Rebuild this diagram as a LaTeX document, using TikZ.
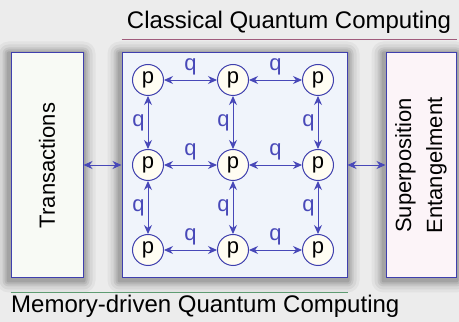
\documentclass[tikz,border=0pt]{standalone}
\usepackage{fontspec}
\setmainfont{Liberation Sans}
\usepackage{tikz}
\usetikzlibrary{arrows.meta,positioning,backgrounds}
\definecolor{qblue}{HTML}{3F3FAE}
\definecolor{qarrow}{HTML}{4848B8}
\definecolor{cream}{HTML}{FFFDF2}
\definecolor{mint}{HTML}{F8FAF5}
\definecolor{ice}{HTML}{F0F4FB}
\definecolor{blush}{HTML}{FCF4F8}
\definecolor{plum}{HTML}{A05C7C}
\definecolor{moss}{HTML}{5E9C72}
\definecolor{backdrop}{HTML}{ECECEC}
\tikzset{panel/.style={draw=qblue,line width=1pt,inner sep=0pt},
qubit/.style={circle,draw=qblue,fill=cream,line width=1pt,minimum size=31pt,inner sep=0pt,font=\fontsize{22}{22}\selectfont},
link/.style={{Stealth[length=9pt,width=8pt]}-{Stealth[length=9pt,width=8pt]},qarrow,line width=.9pt},
qlabel/.style={font=\fontsize{22}{22}\selectfont,inner sep=1pt},
caption/.style={font=\fontsize{24}{24}\selectfont,inner sep=0pt},
sidetext/.style={font=\fontsize{22}{31}\selectfont,align=center,rotate=90}}

\begin{document}
\begin{tikzpicture}[x=1pt,y=1pt]
\useasboundingbox (0,0) rectangle (459,322);
% three panels
\node[panel,fill=mint,minimum width=72pt,minimum height=225pt] (trans) at (47,156.5) {};
\node[panel,fill=ice,minimum width=225pt,minimum height=225pt] (grid) at (234.5,156.5) {};
\node[panel,fill=blush,minimum width=70pt,minimum height=225pt] (super) at (421,156.5) {};
\node[sidetext] (translbl) at (trans) {Transactions};
\node[sidetext] (superlbl) at (super) {Superposition\\Entangelment};
% backdrop and soft shadows
\begin{scope}[on background layer]
\fill[backdrop] (0,0) rectangle (459,322);
\foreach \d/\o in {12/.04,9/.05,6/.07,4/.08,2/.10}{
\foreach \b in {trans,grid,super}
\fill[black,opacity=\o,rounded corners=\d pt] ([shift={(-\d pt-2pt,-\d pt-2pt)}]\b.south west) rectangle ([shift={(\d pt,\d pt-1pt)}]\b.north east);
}
\end{scope}
% p nodes
\foreach \r/\y in {1/242,2/157,3/72}
\foreach \c/\x in {1/148,2/233,3/318}
\node[qubit] (p\r\c) at (\x,\y) {p};
% horizontal links
\foreach \r in {1,2,3}{
\draw[link] (p\r1) -- node[qlabel,above=3pt] (qh\r1) {q} (p\r2);
\draw[link] (p\r2) -- node[qlabel,above=3pt] (qh\r2) {q} (p\r3);
}
% vertical links
\foreach \c in {1,2,3}{
\draw[link] (p1\c) -- node[qlabel,left=2pt] (qv1\c) {q} (p2\c);
\draw[link] (p2\c) -- node[qlabel,left=2pt] (qv2\c) {q} (p3\c);
}
\draw[link] (trans.east |- p21) -- (grid.west |- p21);
\draw[link] (grid.east |- p23) -- (super.west |- p23);
% captions
\node[caption] (top) at (289,300) {Classical Quantum Computing};
\node[caption,anchor=west] (bottom) at (11,16) {Memory-driven Quantum Computing};
\draw[plum,line width=.8pt] ([yshift=13pt]grid.north west) -- ([yshift=13pt]grid.north west -| super.east);
\draw[moss,line width=.8pt] ([yshift=-14pt]trans.south west) -- ([yshift=-14pt]grid.south east);
\end{tikzpicture}
\end{document}
